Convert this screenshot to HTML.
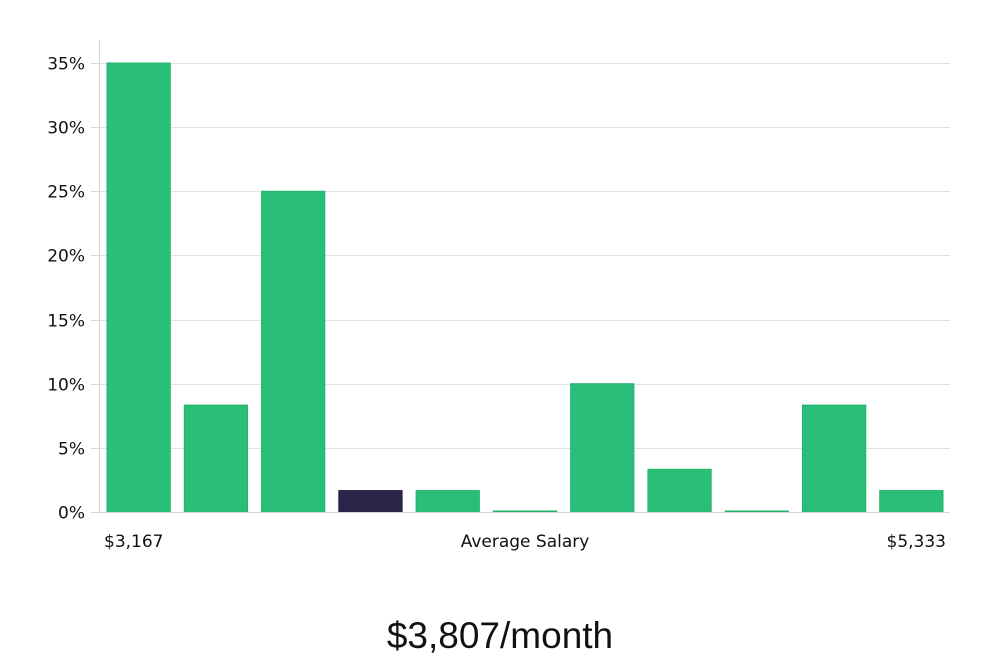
<!DOCTYPE html>
<html><head><meta charset="utf-8"><style>
html,body{margin:0;padding:0;background:#fff;width:1000px;height:660px;overflow:hidden}
svg{display:block;font-family:"DejaVu Sans","Liberation Sans",sans-serif}
</style></head><body>
<svg id="chart" width="1000" height="660" viewBox="0 0 1000 660">
<g id="grid"></g>
<g id="bars"></g>
<g id="yticks"></g>
<line x1="99.5" y1="40" x2="99.5" y2="512" stroke="#d5d5d5" stroke-width="1"/>
<line x1="99" y1="512.5" x2="950" y2="512.5" stroke="#d5d5d5" stroke-width="1"/>
<text x="104" y="547" font-size="17" fill="#111">$3,167</text>
<text x="525" y="547" font-size="17" fill="#111" text-anchor="middle">Average Salary</text>
<text x="946" y="547" font-size="17" fill="#111" text-anchor="end">$5,333</text>
<text x="500" y="648" font-size="37" fill="#111" text-anchor="middle" font-family="'Liberation Sans',sans-serif">$3,807/month</text>
</svg>
<script>
const categories = ["b1","b2","b3","b4","b5","b6","b7","b8","b9","b10","b11"];
const values = [35, 8.33, 25, 1.67, 1.67, 0, 10, 3.33, 0, 8.33, 1.67];
const highlightIndex = 3;
const yTicks = [0, 5, 10, 15, 20, 25, 30, 35];
const yTickLabels = ["0%","5%","10%","15%","20%","25%","30%","35%"];
const NS = "http://www.w3.org/2000/svg";
const y0 = 512, yTop = 63, yMax = 35, xL = 100, xR = 950;
function yScale(v){ return y0 - (v / yMax) * (y0 - yTop); }
const band = (xR - xL) / categories.length;
function xScale(i){ return xL + i * band; }
const grid = document.getElementById('grid');
const yt = document.getElementById('yticks');
yTicks.forEach((t, i) => {
  const y = Math.round(yScale(t)) + 0.5;
  if (t > 0) {
    const l = document.createElementNS(NS, 'line');
    
    
    l.setAttribute('x1', xL); l.setAttribute('x2', xR);
    l.setAttribute('y1', y); l.setAttribute('y2', y);
    l.setAttribute('stroke', '#e2e2e2');
    grid.appendChild(l);
  }
  const tk = document.createElementNS(NS, 'line');
  
  
  tk.setAttribute('x1', 91); tk.setAttribute('x2', 99);
  tk.setAttribute('y1', y); tk.setAttribute('y2', y);
  tk.setAttribute('stroke', '#d5d5d5');
  yt.appendChild(tk);
  const tx = document.createElementNS(NS, 'text');
  
  
  tx.setAttribute('x', 85); tx.setAttribute('y', y + 6);
  tx.setAttribute('text-anchor', 'end');
  tx.setAttribute('font-size', '17');
  tx.setAttribute('fill', '#111');
  tx.textContent = yTickLabels[i];
  yt.appendChild(tx);
});
const bars = document.getElementById('bars');
values.forEach((v, i) => {
  const r = document.createElementNS(NS, 'rect');
  
  
  const top = Math.min(yScale(v), y0 - 1);
  r.setAttribute('x', xScale(i) + 7);
  r.setAttribute('width', band - 14);
  r.setAttribute('y', top);
  r.setAttribute('height', y0 - top);
  const hi = i === highlightIndex;
  r.setAttribute('fill', hi ? '#29264a' : '#2abf79');
  r.setAttribute('stroke', hi ? '#1f1c3d' : '#22b26e');
  r.setAttribute('stroke-width', '1');
  bars.appendChild(r);
});
</script>
</body></html>
